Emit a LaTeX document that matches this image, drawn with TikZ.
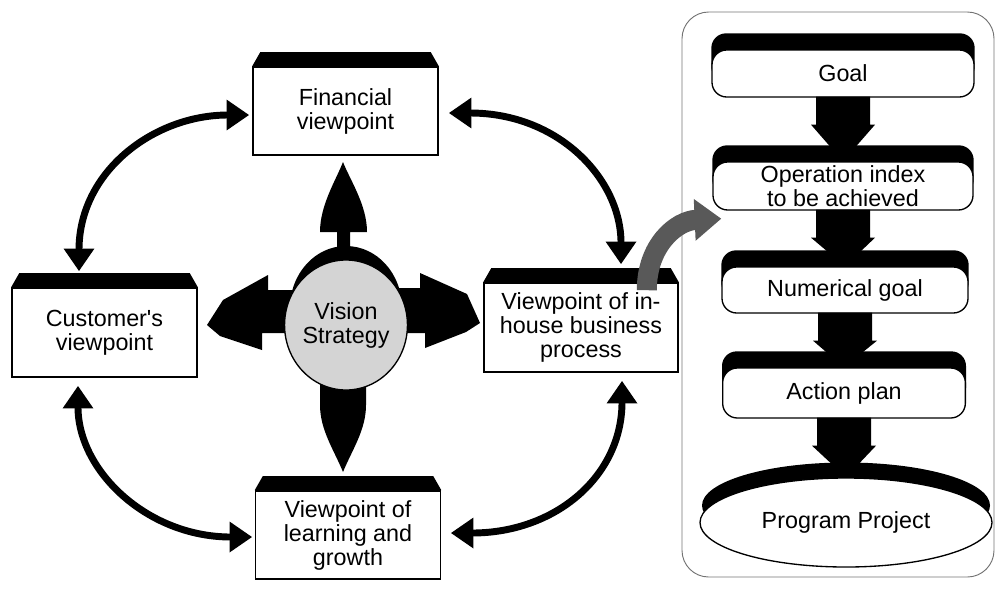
\documentclass[tikz,border=0pt]{standalone}
\usepackage{fontspec}
\setmainfont{Liberation Sans}
\usepackage{tikz}
\usetikzlibrary{arrows.meta,calc,shapes.geometric,backgrounds}

% black cap on top of a box
\newcommand{\boxcap}[1]{\fill ($(#1.north west)+(8,-14)$) -- ($(#1.north east)+(-8,-14)$) -- (#1.north east) -- (#1.north west) -- cycle;}
\newcommand{\roundcap}[1]{\fill[rounded corners=11pt] ($(#1.north west)+(0,-16)$) rectangle ($(#1.south east)+(0,-16)$);}
% thick block arrow between two steps
\newcommand{\blockarrow}[2]{\fill ($(#1.south)+(-27,-1)$) -- ($(#1.south)+(27,-1)$) -- ($(#1.south)+(27,27)$) -- ($(#1.south)+(32,27)$) -- (#2.north) -- ($(#1.south)+(-32,27)$) -- ($(#1.south)+(-27,27)$) -- cycle;}

\begin{document}
\begin{tikzpicture}[x=0.75pt,y=0.75pt,yscale=-1,xscale=1,
  lbl/.style={font=\fontsize{17.5pt}{18pt}\selectfont, align=center, inner sep=0pt},
  viewbox/.style={lbl, rectangle, draw, fill=white, line width=1.2pt},
  stepbox/.style={lbl, rectangle, draw, fill=white, line width=1pt, rounded corners=11pt},
  twoway/.style={line width=5.2pt, {Triangle[width=22pt,length=17pt]}-{Triangle[width=22pt,length=17pt]}}
]
\useasboundingbox (0,0) rectangle (998,590);

%Shape: Rounded Rect [panel]
\draw [black!55, line width=0.7pt, rounded corners=20pt] (682,12) rectangle (994,577);

%Shape: Block arrows round the vision
\fill (343,162) .. controls (350,180) and (367,205) .. (367,232) -- (350,232) -- (350,262) -- (337,262) -- (337,232) -- (320,232) .. controls (320,205) and (336,180) .. (343,162) -- cycle;
\fill (268,275) -- (223,300) -- (207,325) -- (220,336) -- (262,350) -- (262,333) -- (305,333) -- (305,290) -- (268,290) -- cycle;
\fill (420,273) -- (467,294) -- (480,323) -- (466,332) -- (425,348) -- (425,333) -- (390,333) -- (390,288) -- (420,288) -- cycle;
\fill (320,392) -- (320,378) -- (366,378) -- (366,405) .. controls (366,430) and (352,450) .. (343,472) .. controls (334,450) and (320,430) .. (320,405) -- cycle;

% Text Node
\node [viewbox, minimum width=138.75pt, minimum height=66pt] (fin) at (345.5,111) {Financial\\viewpoint};
% Text Node
\node [viewbox, minimum width=138.75pt, minimum height=66.75pt] (cust) at (104.5,332.5) {Customer\textquotesingle s\\viewpoint};
% Text Node
\node [viewbox, minimum width=145.5pt, minimum height=66.75pt] (inh) at (581,327.5) {Viewpoint of in-\\house business\\process};
% Text Node
\node [viewbox, minimum width=138.75pt, minimum height=66pt] (learn) at (348,535) {Viewpoint of\\learning and\\growth};
% Text Node
\node [lbl, ellipse, draw, fill=black!17, line width=1pt, minimum width=90.75pt, minimum height=97.5pt] (vis) at (346,325) {Vision\\Strategy};

% Text Node
\node [stepbox, minimum width=196.5pt, minimum height=35.25pt] (goal) at (843,73.5) {Goal};
% Text Node
\node [stepbox, minimum width=195pt, minimum height=36pt] (opidx) at (843,186) {Operation index\\to be achieved};
% Text Node
\node [stepbox, minimum width=184.5pt, minimum height=34.5pt] (numgoal) at (845,290) {Numerical goal};
% Text Node
\node [stepbox, minimum width=182pt, minimum height=37.5pt] (actplan) at (844,393) {Action plan};
% Text Node
\node [lbl, ellipse, draw, fill=white, line width=1pt, minimum width=219pt, minimum height=66.75pt] (prog) at (846,522.5) {Program Project};

%Shape: Caps
\begin{scope}[on background layer]
\boxcap{fin}
\boxcap{cust}
\boxcap{inh}
\boxcap{learn}
\fill ($(vis.center)+(0,-17)$) ellipse [x radius=56, y radius=62];
\roundcap{goal}
\roundcap{opidx}
\roundcap{numgoal}
\roundcap{actplan}
\fill ($(prog.center)+(0,-17)$) ellipse [x radius=144, y radius=43];
\end{scope}

%Straight Lines
\blockarrow{goal}{opidx}
\blockarrow{opidx}{numgoal}
\blockarrow{numgoal}{actplan}
\blockarrow{actplan}{prog}

%Curve Lines
\draw [twoway] ($(fin.west)+(-3,4)$) .. controls +(-95,0) and +(0,-100) .. ($(cust.north)+(-25.5,-16)$);
\draw [twoway] ($(fin.east)+(10,2)$) .. controls +(110,0) and +(0,-85) .. ($(inh.north)+(40,-18)$);
\draw [twoway] ($(cust.south)+(-26.5,8)$) .. controls +(0,85) and +(-105,0) .. ($(learn.west)+(-2.5,2)$);
\draw [twoway] ($(inh.south)+(41,8)$) .. controls +(0,95) and +(105,0) .. ($(learn.east)+(9.5,-2)$);

%Curve Lines [to the panel]
\draw [black!65, line width=15pt, -{Triangle[width=30pt,length=20pt]}] ($(inh.north east)+(-32,8)$) .. controls +(0,-45) and +(-45,2) .. ($(opidx.south west)+(9,8)$);

\end{tikzpicture}
\end{document}
